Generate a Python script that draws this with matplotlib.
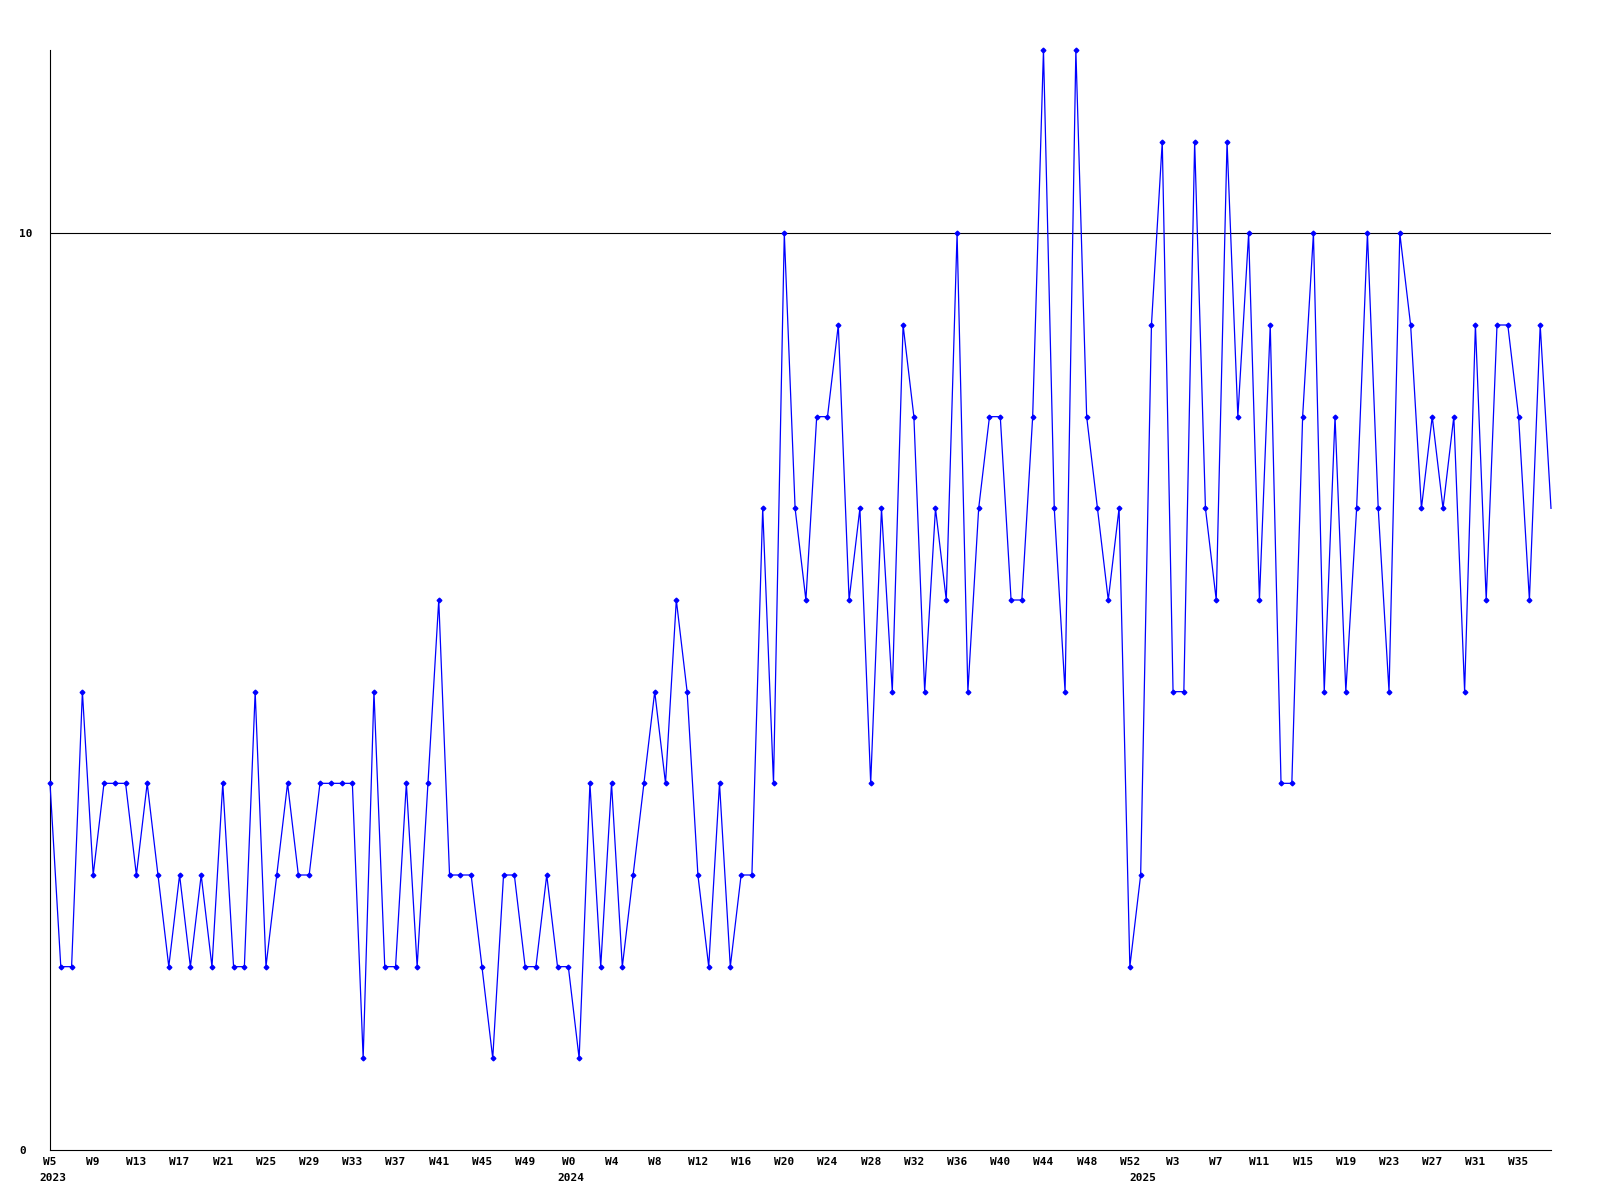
import matplotlib
matplotlib.use("Agg")
import matplotlib.pyplot as plt
import numpy as np

# weekly counts, W5 2023 .. W38 2025
values = [4, 2, 2, 5, 3, 4, 4, 4, 3, 4, 3, 2, 3, 2, 3, 2, 4, 2, 2, 5,
          2, 3, 4, 3, 3, 4, 4, 4, 4, 1, 5, 2, 2, 4, 2, 4,
          6, 3, 3, 3, 2, 1, 3, 3, 2, 2, 3, 2, 2, 1, 4, 2, 4, 2, 3, 4,
          5, 4, 6, 5, 3, 2, 4, 2, 3, 3,
          7, 4, 10, 7, 6, 8, 8, 9, 6, 7, 4, 7, 5, 9, 8, 5, 7, 6, 10, 5,
          7, 8, 8, 6, 6, 8, 12, 7, 5, 12, 8, 7, 6, 7,
          2, 3, 9, 11, 5, 5, 11, 7, 6, 11, 8, 10, 6, 9, 4, 4, 8, 10, 5, 8,
          5, 7, 10, 7, 5, 10, 9, 7, 8, 7, 8, 5, 9, 6, 9, 9, 8, 6, 9, 7]

week_labels = ["W5", "W9", "W13", "W17", "W21", "W25", "W29", "W33", "W37",
               "W41", "W45", "W49",
               "W0", "W4", "W8", "W12", "W16", "W20", "W24", "W28", "W32",
               "W36", "W40", "W44", "W48", "W52",
               "W3", "W7", "W11", "W15", "W19", "W23", "W27", "W31", "W35"]
label_step = 4

years = ["2023", "2024", "2025"]
year_start = [0, 48, 101]

y_ticks = [0, 10]
y_max = 12

x = np.arange(len(values))

fig = plt.figure(figsize=(16, 12), dpi=100)
ax = fig.add_axes([50 / 1600, 50 / 1200, 1501 / 1600, 1100 / 1200])

font = dict(family="DejaVu Sans Mono", weight="bold", size=8)

ax.axhline(10, color="black", lw=0.8, zorder=1)
ax.plot(x, values, color="#0000ff", lw=0.9, marker="D", ms=2.4,
        markevery=list(range(len(values) - 1)), clip_on=False, zorder=3)

ax.set_xlim(0, len(values) - 1)
ax.set_ylim(0, y_max)

for side in ["top", "right"]:
    ax.spines[side].set_visible(False)
for side in ["left", "bottom"]:
    ax.spines[side].set_linewidth(0.8)

ax.set_xticks(x[::label_step])
ax.set_xticklabels(week_labels, **font)
ax.set_yticks(y_ticks)
ax.set_yticklabels([str(t) for t in y_ticks], ha="left", **font)
ax.tick_params(axis="x", length=0, pad=5)
ax.tick_params(axis="y", length=0, pad=22)

for yr, pos in zip(years, year_start):
    ax.annotate(yr, xy=(pos, 0), xycoords=("data", "axes fraction"),
                xytext=(-8, -16.5), textcoords="offset points",
                ha="left", va="top", **font)

fig.savefig("out.png", dpi=100)
